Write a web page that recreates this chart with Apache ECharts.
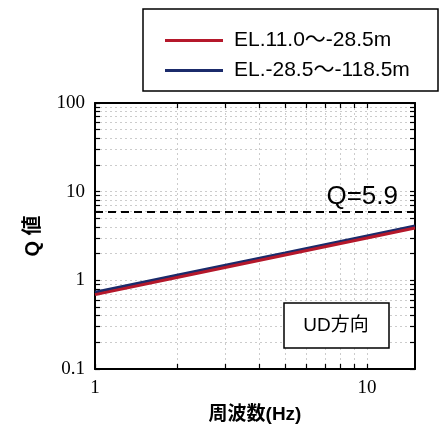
<!DOCTYPE html>
<html><head><meta charset="utf-8">
<script src="https://cdn.jsdelivr.net/npm/echarts@6/dist/echarts.min.js"></script>
<style>html,body{margin:0;padding:0;background:#fff}#c{width:441px;height:429px}</style>
</head><body><div id="c"></div>
<script>
const freq = [1, 2, 5, 10, 15];
const qUpper = [0.69, 1.075, 1.93, 3.0, 3.9];   // EL.11.0～-28.5m (red)
const qLower = [0.735, 1.14, 2.03, 3.17, 4.1];  // EL.-28.5～-118.5m (blue)
const qConst = 5.9;
const xTicks = [1,2,3,4,5,6,7,8,9,10];
const yTicks = [0.1,0.2,0.3,0.4,0.5,0.6,0.7,0.8,0.9,1,2,3,4,5,6,7,8,9,10,20,30,40,50,60,70,80,90,100];
const xLabels = [1, 10];
const yLabels = [0.1, 1, 10, 100];
const names = ['EL.11.0～-28.5m', 'EL.-28.5～-118.5m'];

const chart = echarts.init(document.getElementById('c'), null, {renderer:'canvas'});
const numFont = '"Liberation Serif", "DejaVu Serif", serif';
const sansFont = '"Liberation Sans", "Noto Sans CJK JP", sans-serif';
function axisCommon(show){
  return {
    axisLine:{show:true, onZero:false, lineStyle:{color:'#000', width:2}},
    axisTick:{show:true, inside:true, length:5, lineStyle:{color:'#000', width:1.2}},
    splitLine:{show:false},
    axisLabel:{show:show}
  };
}
chart.setOption({
  animation:false,
  grid:{left:95, right:26, top:103, bottom:60},
  legend:{
    orient:'vertical', left:160, top:25, itemGap:9,
    icon:'rect', itemWidth:58, itemHeight:3,
    textStyle:{fontSize:21, fontFamily:sansFont, color:'#000', padding:[0,0,0,6]},
    data:names
  },
  graphic:[
    {type:'rect', shape:{x:143, y:9, width:295, height:82}, style:{fill:null, stroke:'#000', lineWidth:1.5}},
    {type:'rect', shape:{x:284, y:303, width:105, height:45}, style:{fill:'#fff', stroke:'#000', lineWidth:1.5}, z:10},
    {type:'text', x:336, y:326, style:{text:'UD方向', font:'19px ' + sansFont, fill:'#000', align:'center', verticalAlign:'middle'}, z:11}
  ],
  xAxis:[
    Object.assign(axisCommon(true), {
      type:'log', min:1, max:15, logBase:10, position:'bottom',
      name:'周波数(Hz)', nameLocation:'middle', nameGap:36,
      nameTextStyle:{fontSize:19, fontWeight:'bold', fontFamily:sansFont, color:'#000'},
      axisTick:{show:true, inside:true, length:5, customValues:xTicks, lineStyle:{color:'#000', width:1.2}},
      axisLabel:{show:true, customValues:xLabels, fontSize:19, fontFamily:numFont, color:'#000', margin:10},
      splitLine:{show:true, lineStyle:{color:'#cccccc', type:[2,3], width:1}}
    }),
    Object.assign(axisCommon(false), {
      type:'log', min:1, max:15, logBase:10, position:'top',
      axisTick:{show:true, inside:true, length:5, customValues:xTicks, lineStyle:{color:'#000', width:1.2}}
    })
  ],
  yAxis:[
    Object.assign(axisCommon(true), {
      type:'log', min:0.1, max:100, logBase:10, position:'left',
      name:'Q 値', nameLocation:'middle', nameGap:52, nameRotate:90,
      nameTextStyle:{fontSize:20, fontWeight:'bold', fontFamily:sansFont, color:'#000'},
      axisTick:{show:true, inside:true, length:5, customValues:yTicks, lineStyle:{color:'#000', width:1.2}},
      axisLabel:{show:true, customValues:yLabels, fontSize:19, fontFamily:numFont, color:'#000', margin:10,
        formatter:v=>String(v)},
      splitLine:{show:true, lineStyle:{color:'#cccccc', type:[2,3], width:1}}
    }),
    Object.assign(axisCommon(false), {
      type:'log', min:0.1, max:100, logBase:10, position:'right',
      axisTick:{show:true, inside:true, length:5, customValues:yTicks, lineStyle:{color:'#000', width:1.2}}
    })
  ],
  series:[
    {name:names[0], type:'line', data:freq.map((f,i)=>[f,qUpper[i]]), showSymbol:false, symbol:'none',
      lineStyle:{color:'#b5182b', width:3}, itemStyle:{color:'#b5182b'}, z:3,
      markLine:{silent:true, symbol:'none', animation:false,
        lineStyle:{color:'#000', width:2, type:[8,5]},
        label:{show:true, position:'insideEndTop', formatter:'Q=' + qConst, fontSize:26,
          fontFamily:sansFont, color:'#000', distance:[17,2]},
        data:[{yAxis:qConst}]}
    },
    {name:names[1], type:'line', data:freq.map((f,i)=>[f,qLower[i]]), showSymbol:false, symbol:'none',
      lineStyle:{color:'#1b2b6b', width:3}, itemStyle:{color:'#1b2b6b'}, z:2}
  ]
});
</script></body></html>
